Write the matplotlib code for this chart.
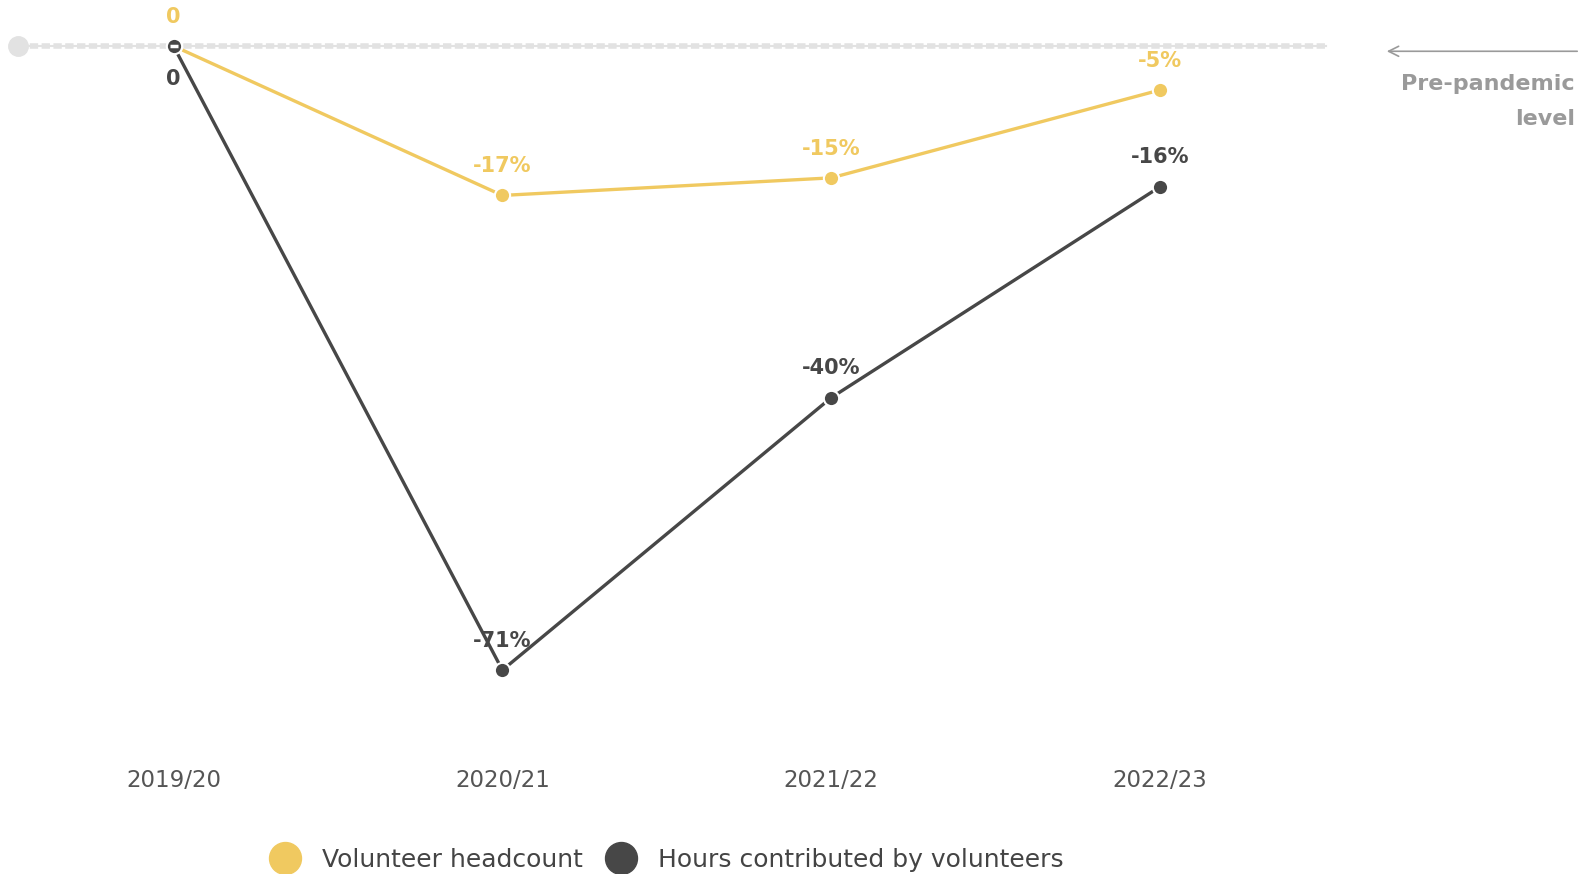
import matplotlib.pyplot as plt
from matplotlib.lines import Line2D

plt.rcParams['font.family'] = ['DejaVu Sans']
plt.rcParams['lines.scale_dashes'] = False

years = ['2019/20', '2020/21', '2021/22', '2022/23']
headcount = [0, -17, -15, -5]
hours = [0, -71, -40, -16]
headcount_labels = ['0', '-17%', '-15%', '-5%']
hours_labels = ['0', '-71%', '-40%', '-16%']

YELLOW = '#f0c960'
DARK = '#474747'
GREY = '#9a9a9a'
LIGHT = '#e2e2e2'

fig = plt.figure(figsize=(15.9, 8.74), dpi=100)
# axes spans full width, bottom edge where tick labels hang
ax = fig.add_axes([0, 1 - 745 / 874, 1, 745 / 874])
x = list(range(len(years)))
x0, step = 173.5, 328.9
px_per_unit = 8.79
ax.set_xlim(-x0 / step, (1590 - x0) / step)
ax.set_ylim(-(745 - 46) / px_per_unit, 46 / px_per_unit)

# pre-pandemic baseline
x_left = (18 - x0) / step
x_right = (1326 - x0) / step
ax.plot([x_left, x_right], [0, 0], color=LIGHT, lw=1.5, zorder=1)
ax.plot([x_left, x_right], [0, 0], color=LIGHT, lw=4, dashes=(6, 2.5), zorder=1)
ax.plot([x_left], [0], 'o', color=LIGHT, markersize=14, zorder=1)

ax.plot(x, headcount, color=YELLOW, lw=2.4, marker='o', markersize=11,
        markeredgecolor='white', markeredgewidth=1.5, zorder=3)
ax.plot(x, hours, color=DARK, lw=2.4, marker='o', markersize=11,
        markeredgecolor='white', markeredgewidth=1.5, zorder=4)
ax.plot([0], [0], marker='_', color='white', markersize=6, markeredgewidth=2.5, zorder=5)

for xi, v, lab in zip(x, headcount, headcount_labels):
    ax.annotate(lab, (xi, v), xytext=(0, 21), textcoords='offset points',
                ha='center', va='center', fontsize=15, fontweight='bold', color=YELLOW, zorder=6)
for i, (xi, v, lab) in enumerate(zip(x, hours, hours_labels)):
    dy = -24 if i == 0 else 21
    ax.annotate(lab, (xi, v), xytext=(0, dy), textcoords='offset points',
                ha='center', va='center', fontsize=15, fontweight='bold', color=DARK, zorder=6)

ax.set_xticks(x)
ax.set_xticklabels(years, fontsize=16.5, color='#555555')
ax.tick_params(axis='x', length=0, pad=17)
ax.set_yticks([])
for s in ax.spines.values():
    s.set_visible(False)

# annotation on the right
ax.annotate('', xy=((1384 - x0) / step, -0.6), xytext=((1580 - x0) / step, -0.6),
            arrowprops=dict(arrowstyle='->', color=GREY, lw=1.2, mutation_scale=18))
fig.text(1575 / 1590, 1 - 84 / 874, 'Pre-pandemic', ha='right', va='center',
         fontsize=16, fontweight='bold', color=GREY)
fig.text(1575 / 1590, 1 - 119 / 874, 'level', ha='right', va='center',
         fontsize=16, fontweight='bold', color=GREY)

handles = [Line2D([], [], ls='none', marker='o', markersize=23, color=YELLOW),
           Line2D([], [], ls='none', marker='o', markersize=23, color=DARK)]
fig.legend(handles, ['Volunteer headcount', 'Hours contributed by volunteers'],
           loc='center', bbox_to_anchor=(667 / 1590, 14 / 874), ncol=2, frameon=False,
           fontsize=18, handletextpad=0.9, columnspacing=0.9, handlelength=1.2,
           labelcolor='#444444')

fig.savefig('out.png', dpi=100)
